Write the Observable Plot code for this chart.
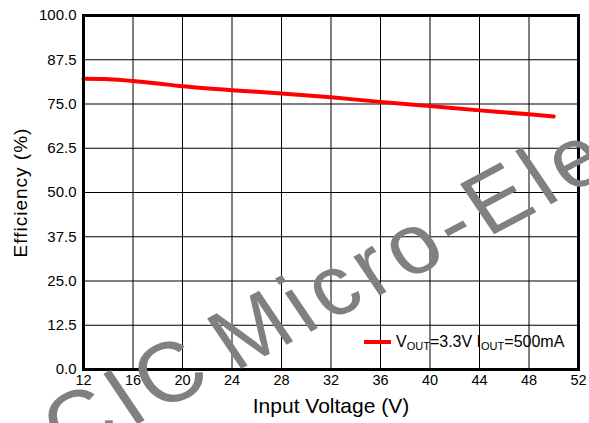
<!DOCTYPE html>
<html>
<head>
<meta charset="utf-8">
<script src="https://cdn.jsdelivr.net/npm/d3@7"></script>
<script src="https://cdn.jsdelivr.net/npm/@observablehq/plot@0.6"></script>
<style>
  body { margin: 0; background: #fff; }
  #wrap { position: relative; width: 589px; height: 423px; overflow: hidden; font-family: "Liberation Sans", Arial, sans-serif; }
  #chart svg text { fill: #000; }
  g[aria-label="y-axis tick label"] { font-size: 15px; }
  g[aria-label="x-axis tick label"] { font-size: 14.5px; }
  g[aria-label="x-axis label"] { font-size: 21px; }
  g[aria-label="y-axis label"] { font-size: 19px; letter-spacing: 1px; }
  #legend { position: absolute; left: 364px; top: 333px; font-size: 16px; white-space: nowrap; color: #000; }
  #legend .sw { display: inline-block; width: 27px; height: 4px; background: #ff0000; vertical-align: middle; margin-right: 5px; position: relative; top: -1px; }
  #legend sub { font-size: 11px; vertical-align: -3px; }
  #wm { position: absolute; left: 0; top: 0; pointer-events: none; }
</style>
</head>
<body>
<div id="wrap"><div id="chart"></div></div>
<script>
// Data
const inputVoltage = [12, 14, 16, 18, 20, 24, 28, 32, 36, 40, 44, 48, 50];
const efficiency   = [82.1, 82.0, 81.5, 80.8, 80.0, 78.9, 78.0, 76.9, 75.6, 74.4, 73.2, 72.1, 71.5];
const xTicks = [12, 16, 20, 24, 28, 32, 36, 40, 44, 48, 52];
const yTicks = [0, 12.5, 25, 37.5, 50, 62.5, 75, 87.5, 100];
const seriesLabel = ["V", "OUT", "=3.3V I", "OUT", "=500mA"];
const watermarkText = "CIC Micro-Electronics";

const rows = inputVoltage.map((v, i) => ({v, e: efficiency[i]}));

const chart = Plot.plot({
  width: 589,
  height: 423,
  marginLeft: 83,
  marginRight: 11,
  marginTop: 15,
  marginBottom: 54,
  style: {fontFamily: '"Liberation Sans", Arial, sans-serif', color: "#000", background: "#fff"},
  x: {domain: [12, 52]},
  y: {domain: [0, 100]},
  marks: [
    Plot.gridX(xTicks, {stroke: "#000", strokeOpacity: 1, strokeWidth: 1}),
    Plot.gridY(yTicks, {stroke: "#000", strokeOpacity: 1, strokeWidth: 1}),
    Plot.axisX(xTicks, {tickSize: 0, tickPadding: 5, label: "Input Voltage (V)", labelAnchor: "center", labelArrow: "none", labelOffset: 43, tickFormat: d => String(d)}),
    Plot.axisY(yTicks, {tickSize: 0, tickPadding: 7, label: "Efficiency (%)", labelAnchor: "center", labelArrow: "none", labelOffset: 70, tickFormat: d => d.toFixed(1)}),
    Plot.line(rows, {x: "v", y: "e", stroke: "#ff0000", strokeWidth: 4, curve: "catmull-rom"}),
    Plot.frame({stroke: "#000", strokeWidth: 3})
  ]
});

const wrap = document.getElementById("wrap");
document.getElementById("chart").appendChild(chart);

// Legend (inside plot, bottom-right)
const legend = document.createElement("div");
legend.id = "legend";
legend.innerHTML = `<span class="sw"></span>${seriesLabel[0]}<sub>${seriesLabel[1]}</sub>${seriesLabel[2]}<sub>${seriesLabel[3]}</sub>${seriesLabel[4]}`;
wrap.appendChild(legend);

// Watermark overlay
const ns = "http://www.w3.org/2000/svg";
const wm = document.createElementNS(ns, "svg");
wm.setAttribute("id", "wm");
wm.setAttribute("width", 589);
wm.setAttribute("height", 423);
const t = document.createElementNS(ns, "text");
t.setAttribute("x", 0);
t.setAttribute("y", 0);
t.setAttribute("transform", "translate(68 461) rotate(-28) skewX(6)");
t.setAttribute("font-family", '"Liberation Sans", Arial, sans-serif');
t.setAttribute("font-size", 88);
t.style.fill = "#808080";
t.style.letterSpacing = "7px";
t.style.wordSpacing = "-15px";
t.textContent = watermarkText;
wm.appendChild(t);
wrap.appendChild(wm);
</script>
</body>
</html>
